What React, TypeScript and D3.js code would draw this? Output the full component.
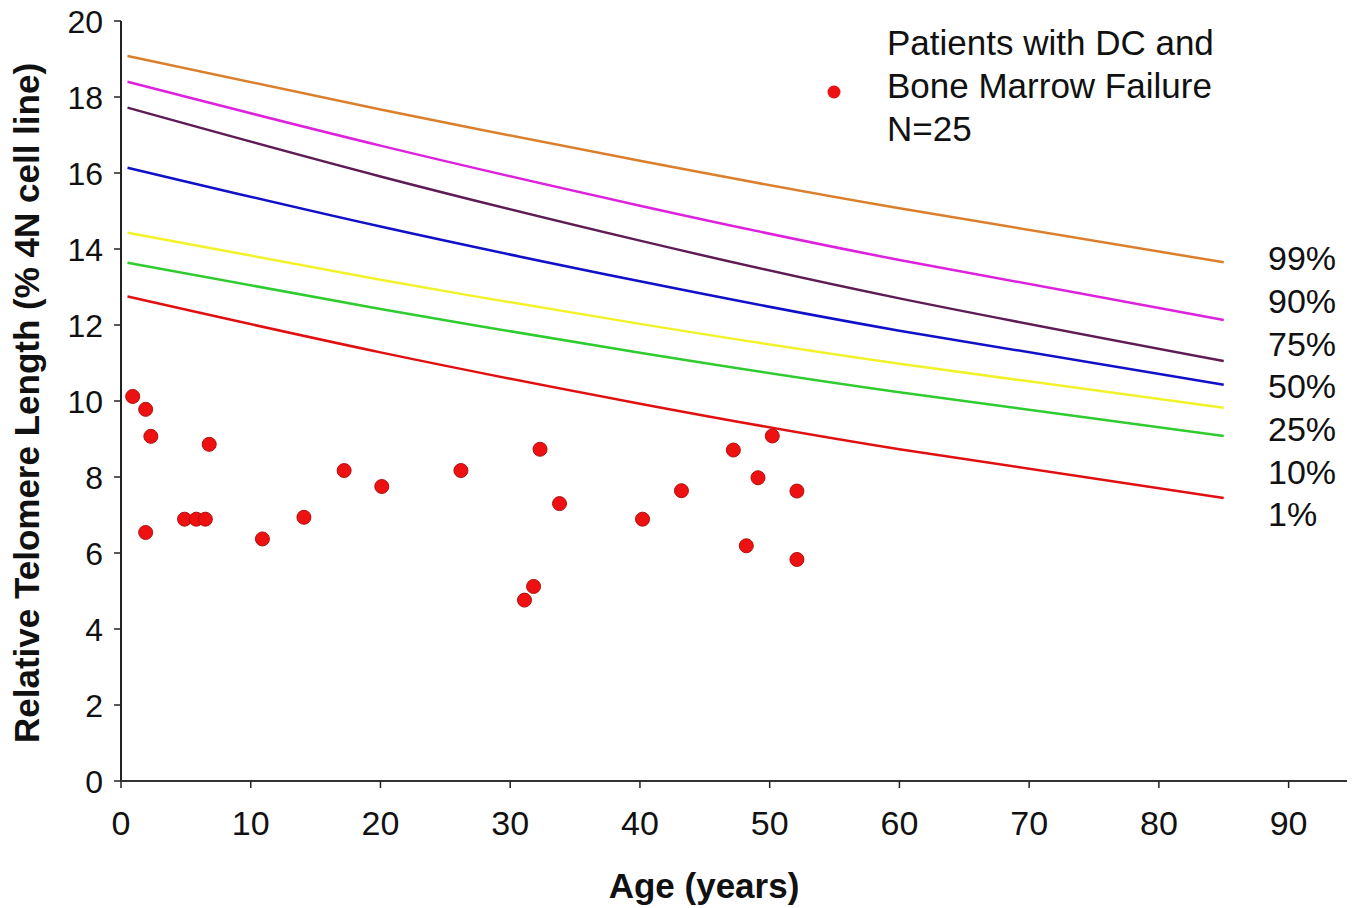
import React, { useEffect } from 'react'
import * as d3 from 'd3'

// percentile curves, read at these ages
const curveAges = [0.5, 20, 40, 60, 85]
const p99 = [19.08, 17.67, 16.32, 15.07, 13.65]
const p90 = [18.4, 16.72, 15.14, 13.71, 12.13]
const p75 = [17.72, 15.91, 14.22, 12.7, 11.05]
const p50 = [16.14, 14.59, 13.15, 11.85, 10.43]
const p25 = [14.43, 13.19, 12.03, 10.98, 9.82]
const p10 = [13.64, 12.42, 11.27, 10.23, 9.08]
const p1 = [12.75, 11.28, 9.93, 8.73, 7.45]

const percentileNames = ['99%', '90%', '75%', '50%', '25%', '10%', '1%']
const percentileColors = ['#DB7F2C', '#DD22DD', '#5E1C55', '#1010C8', '#F2F22A', '#2ECC2E', '#E01010']

// patients with DC and bone marrow failure
const patientAge = [0.9, 1.9, 2.3, 6.8, 1.9, 4.9, 5.8, 6.5, 10.9, 14.1, 17.2, 20.1, 26.2,
  32.3, 33.8, 31.8, 31.1, 43.2, 40.2, 47.2, 50.2, 49.1, 52.1, 48.2, 52.1]
const patientTL = [10.12, 9.78, 9.07, 8.86, 6.54, 6.89, 6.89, 6.89, 6.37, 6.94, 8.17, 7.75, 8.17,
  8.73, 7.3, 5.12, 4.76, 7.64, 6.89, 8.71, 9.08, 7.98, 7.63, 6.19, 5.83]

const xTicks = d3.range(0, 100, 10)
const yTicks = d3.range(0, 22, 2)
const legendLines = ['Patients with DC and', 'Bone Marrow Failure', 'N=25']

const font = '"Liberation Sans", Arial, sans-serif'

export default function App() {
  useEffect(() => {
    document.body.style.margin = '0'
  }, [])

  const width = 1356
  const height = 908
  const x = d3.scaleLinear().domain([0, 94.5]).range([121, 1347])
  const y = d3.scaleLinear().domain([0, 20]).range([781, 21])

  const series = [p99, p90, p75, p50, p25, p10, p1]
  const line = d3.line<[number, number]>()
    .x(d => x(d[0]))
    .y(d => y(d[1]))
    .curve(d3.curveNatural)

  const labelY = d3.scalePoint<string>().domain(percentileNames).range([258, 514])
  const legendY = d3.scalePoint<string>().domain(legendLines).range([55, 141])

  return (
    <svg width={width} height={height} style={{ display: 'block', background: '#fff' }} fontFamily={font}>
      {/* axes */}
      <line x1={x(0)} x2={x(0)} y1={y(20)} y2={y(0)} stroke="#222" strokeWidth={2} />
      <line x1={x(0)} x2={x(94.5)} y1={y(0)} y2={y(0)} stroke="#333" strokeWidth={2} />
      {yTicks.map(t => (
        <g key={'y' + t}>
          <line x1={x(0) - 7} x2={x(0)} y1={y(t)} y2={y(t)} stroke="#222" strokeWidth={1.5} />
          <text x={103} y={y(t)} dy="0.36em" textAnchor="end" fontSize={32} fill="#111">{t}</text>
        </g>
      ))}
      {xTicks.map(t => (
        <g key={'x' + t}>
          <line x1={x(t)} x2={x(t)} y1={y(0)} y2={y(0) + 7} stroke="#222" strokeWidth={1.5} />
          <text x={x(t)} y={835} textAnchor="middle" fontSize={34} fill="#111">{t}</text>
        </g>
      ))}

      {/* percentile curves */}
      {series.map((s, i) => (
        <path key={percentileNames[i]}
          d={line(curveAges.map((a, j) => [a, s[j]] as [number, number])) || ''}
          fill="none" stroke={percentileColors[i]} strokeWidth={2.5} />
      ))}
      {percentileNames.map(n => (
        <text key={n} x={1268} y={labelY(n)} dy="0.36em" fontSize={34} fill="#111">{n}</text>
      ))}

      {/* patients */}
      {patientAge.map((a, i) => (
        <circle key={i} cx={x(a)} cy={y(patientTL[i])} r={7} fill="#EE1111" stroke="#B01010" strokeWidth={1} />
      ))}

      {/* legend */}
      <circle cx={834} cy={92} r={6.5} fill="#EE1111" />
      {legendLines.map(l => (
        <text key={l} x={887} y={legendY(l)} fontSize={35} fill="#111">{l}</text>
      ))}

      {/* titles */}
      <text x={704} y={898} textAnchor="middle" fontSize={35} fontWeight="bold" fill="#111">Age (years)</text>
      <text transform={`translate(39, 403) rotate(-90)`} textAnchor="middle" fontSize={35} fontWeight="bold" fill="#111">
        Relative Telomere Length (% 4N cell line)
      </text>
    </svg>
  )
}
